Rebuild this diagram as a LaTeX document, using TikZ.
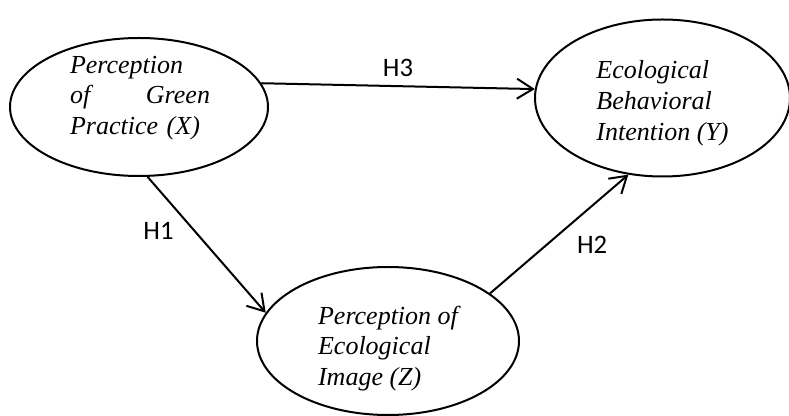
\documentclass[tikz,border=0pt]{standalone}
\usepackage{fontspec}
\setmainfont{Liberation Serif}
\newfontfamily\hypfont{Carlito}
\usetikzlibrary{positioning,shapes.geometric,arrows.meta}

\begin{document}
\begin{tikzpicture}[x=0.75pt, y=-0.75pt,
        construct/.style = {draw, ellipse, line width=1.5pt, inner sep=0pt},
        varname/.style = {font=\fontsize{19.5}{23}\selectfont\itshape, align=left, inner sep=0pt},
        effect/.style = {line width=1.5pt, -{Straight Barb[length=12pt, width=15pt, line width=1.5pt]}},
        hyp/.style = {font=\hypfont\fontsize{20}{24}\selectfont, inner sep=2pt}]
        \useasboundingbox (0,0) rectangle (789,416);

        % the three constructs
        \node(X) [construct, minimum width=193.5pt, minimum height=103.5pt] at (139,107) {};
        \node(Y) [construct, minimum width=191.25pt, minimum height=117.75pt,
                  right = 198.75pt of X, yshift=6.75pt] {};
        \node(Z) [construct, minimum width=196.5pt, minimum height=111pt,
                  below = 66.75pt of X, xshift=186.75pt] {};

        \node(Xtext) [varname, text width=105pt] at ([xshift=0.75pt, yshift=6.75pt]X.center)
            {Perception\\ of \hfill Green\\ Practice (X)};
        \node(Ytext) [varname] at ([yshift=-4pt]Y.center)
            {Ecological\\ Behavioral\\ Intention (Y)};
        \node(Ztext) [varname] at ([yshift=-5.6pt]Z.center)
            {Perception of\\ Ecological\\ Image (Z)};

        % hypotheses
        \draw[effect] (X.11) -- node[hyp, midway, above=4pt] {H3} (Y.176);
        \draw[effect] (X.-83) -- node[hyp, pos=0.42, left=15pt, yshift=2pt] {H1} (Z.167);
        \draw[effect] (Z.25) -- node[hyp, pos=0.41, right=20pt] {H2} (Y.-114);
    \end{tikzpicture}
\end{document}
